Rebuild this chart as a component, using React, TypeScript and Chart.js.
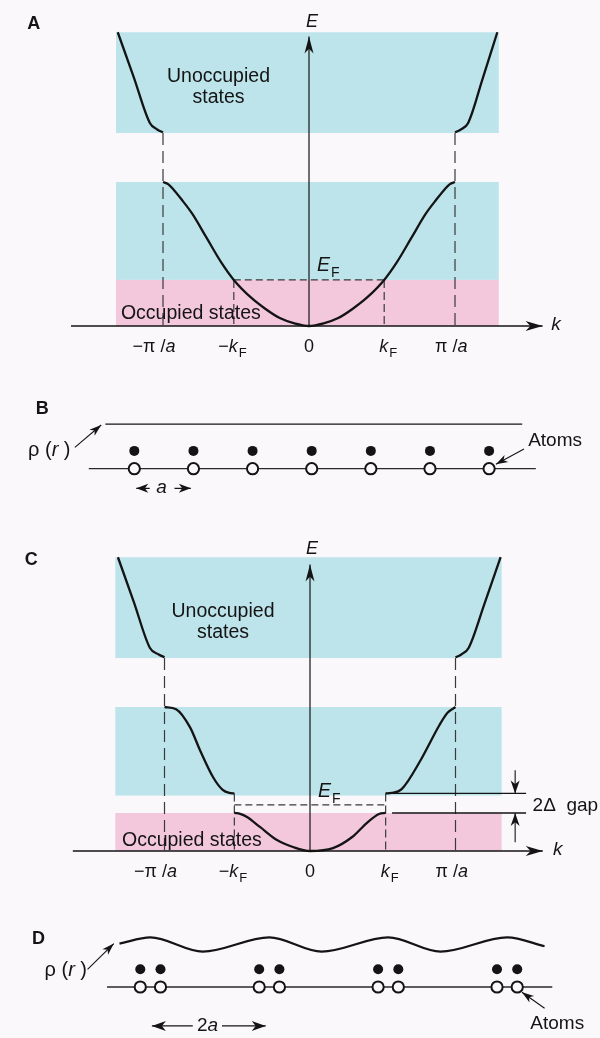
import React, { useEffect, useRef } from 'react';
import { Chart, registerables } from 'chart.js';

Chart.register(...registerables);

// ======================= DATA =======================
// Panels A and C: k in units of π/a, E in units of the lower-band width
const kTickLabels = ['−π /a', '−kF', '0', 'kF', 'π /a'];
const kTicksA = [-1, -0.515, 0, 0.515, 1];
const kTicksC = [-1, -0.52, 0, 0.52, 1];

// A — metal: half-filled band, no gap at k_F
const bandA_k = [-1, -0.965, -0.93, -0.87, -0.8, -0.7, -0.6, -0.515, -0.4, -0.3, -0.2, -0.1, 0, 0.1, 0.2, 0.3, 0.4, 0.515, 0.6, 0.7, 0.8, 0.87, 0.93, 0.965, 1];
const bandA_E = [1, 0.985, 0.95, 0.875, 0.78, 0.61, 0.44, 0.32, 0.2, 0.12, 0.055, 0.018, 0, 0.018, 0.055, 0.12, 0.2, 0.32, 0.44, 0.61, 0.78, 0.875, 0.95, 0.985, 1];
const topLeftA_k = [-1.31, -1.2, -1.09, -1.04, -1.0];
const topLeftA_E = [2.04, 1.727, 1.41, 1.365, 1.345];
const topRightA_k = [1.0, 1.04, 1.09, 1.19, 1.29];
const topRightA_E = [1.345, 1.365, 1.41, 1.72, 2.04];
const upperBandA = [1.34, 2.04];
const lowerBandA = [0.32, 1.0];
const occupiedA = [0, 0.32];
const bandSpanA = [-1.322, 1.3];
const fermiA = 0.32;

// C — Peierls insulator: gap 2Δ opened at ±k_F
const upperBranchLeftC_k = [-1, -0.92, -0.825, -0.756, -0.667, -0.6, -0.555, -0.52];
const upperBranchLeftC_E = [1, 0.985, 0.86, 0.7, 0.514, 0.424, 0.403, 0.4];
const upperBranchRightC_k = [0.52, 0.56, 0.63, 0.76, 0.89, 0.945, 1];
const upperBranchRightC_E = [0.4, 0.403, 0.43, 0.63, 0.875, 0.96, 1];
const lowerBranchC_k = [-0.52, -0.48, -0.433, -0.344, -0.227, -0.117, 0, 0.158, 0.29, 0.39, 0.474, 0.52];
const lowerBranchC_E = [0.264, 0.258, 0.236, 0.167, 0.076, 0.028, 0, 0.02, 0.097, 0.194, 0.257, 0.264];
const topLeftC_k = [-1.32, -1.21, -1.1, -1.04, -1.0];
const topLeftC_E = [2.04, 1.727, 1.41, 1.365, 1.345];
const topRightC_k = [1.0, 1.04, 1.09, 1.2, 1.31];
const topRightC_E = [1.345, 1.365, 1.41, 1.72, 2.04];
const upperBandC = [1.34, 2.04];
const lowerBandC = [0.385, 1.0];
const occupiedC = [0, 0.264];
const bandSpanC = [-1.338, 1.317];
const fermiC = 0.32;
const gapC = [0.264, 0.4];

// B — uniform chain (positions in units of a)
const atomsB = [0, 1, 2, 3, 4, 5, 6];
const rhoB_x = [-0.49, 6.56];
const rhoB_y = [2.5, 2.5];

// D — dimerised chain with charge-density wave
const atomsD = [-0.17, 0.17, 1.83, 2.17, 3.83, 4.17, 5.83, 6.17];
const rhoD_x = [-0.52, 0, 0.88, 2, 2.88, 4, 4.88, 6, 6.63];
const rhoD_y = [2.45, 2.8, 2.0, 2.8, 2.0, 2.8, 2.0, 2.8, 2.3];

const electronRow = 1;
const ionRow = 0;

// ======================= STYLE / LAYOUT =======================
const W = 600;
const FONT = '"Liberation Sans", Arial, Helvetica, sans-serif';
const BG = '#fbf8fb';
const BLUE = '#bde4eb';
const PINK = '#f3c8dd';
const INK = '#141414';
const DASH_INK = '#3a3a3a';

type XY = { x: number; y: number };
type Frame = { x0: number; xu: number; y0: number; yu: number };
type Fn = (v: number) => number;

const pts = (xs: number[], ys: number[]): XY[] => xs.map((x, i) => ({ x, y: ys[i] }));

function curve(xs: number[], ys: number[], width = 2.3) {
  return {
    data: pts(xs, ys), showLine: true, pointRadius: 0, borderColor: INK,
    borderWidth: width, cubicInterpolationMode: 'monotone', order: 1,
  };
}
function seg(x0: number, y0: number, x1: number, y1: number, width = 1.2, dash: number[] = [], color = INK, order = 2) {
  return {
    data: [{ x: x0, y: y0 }, { x: x1, y: y1 }], showLine: true, pointRadius: 0,
    borderColor: color, borderWidth: width, borderDash: dash, order,
  };
}
function marks(xs: number[], row: number, radius: number, fill: string, stroke: string, bw: number) {
  return {
    data: xs.map((x) => ({ x, y: row })), showLine: false, pointRadius: radius,
    pointBackgroundColor: fill, pointBorderColor: stroke, pointBorderWidth: bw, order: 0,
  };
}

function head(ctx: CanvasRenderingContext2D, fx: number, fy: number, tx: number, ty: number, len = 14, half = 4.5) {
  const a = Math.atan2(ty - fy, tx - fx);
  const c = Math.cos(a), s = Math.sin(a);
  const bx = tx - len * c, by = ty - len * s;
  const nx = tx - len * 0.72 * c, ny = ty - len * 0.72 * s;
  ctx.beginPath();
  ctx.moveTo(tx, ty);
  ctx.lineTo(bx - half * s, by + half * c);
  ctx.lineTo(nx, ny);
  ctx.lineTo(bx + half * s, by - half * c);
  ctx.closePath();
  ctx.fillStyle = INK;
  ctx.fill();
}

function band(ctx: CanvasRenderingContext2D, X: Fn, Y: Fn, xr: number[], er: number[], color: string) {
  const x0 = X(xr[0]), x1 = X(xr[1]), y0 = Y(er[1]), y1 = Y(er[0]);
  ctx.fillStyle = color;
  ctx.fillRect(x0, y0, x1 - x0, y1 - y0);
}

function text(ctx: CanvasRenderingContext2D, str: string, x: number, y: number, size: number, o: { bold?: boolean; italic?: boolean; align?: CanvasTextAlign } = {}) {
  ctx.font = `${o.italic ? 'italic ' : ''}${o.bold ? 'bold ' : ''}${size}px ${FONT}`;
  ctx.textAlign = o.align || 'left';
  ctx.textBaseline = 'alphabetic';
  ctx.fillStyle = INK;
  ctx.fillText(str, x, y);
}

function rich(ctx: CanvasRenderingContext2D, str: string, x: number, y: number, size: number, mode: 'left' | 'center' | 'tick') {
  const chars = Array.from(str);
  const parts = chars.map((c, i) => {
    const sub = c === 'F' && i > 0 && (chars[i - 1] === 'k' || chars[i - 1] === 'E');
    const it = c === 'a' || c === 'k' || c === 'r' || c === 'E';
    const fs = sub ? Math.round(size * 0.74) : size;
    return { c, sub, font: `${it ? 'italic ' : ''}${fs}px ${FONT}` };
  });
  const widths = parts.map((p, i) => {
    ctx.font = p.font;
    const w = ctx.measureText(p.c).width;
    return w + (i + 1 < parts.length && parts[i + 1].sub ? 1 : 0);
  });
  const offs: number[] = [];
  let acc = 0;
  widths.forEach((w) => { offs.push(acc); acc += w; });
  let start = x;
  if (mode === 'center') start = x - acc / 2;
  if (mode === 'tick') {
    let idx = parts.findIndex((p) => p.c === '/' || p.c === 'k' || p.c === '0');
    if (idx < 0) idx = 0;
    start = x - offs[idx] - widths[idx] / 2;
  }
  ctx.fillStyle = INK;
  ctx.textAlign = 'left';
  ctx.textBaseline = 'alphabetic';
  parts.forEach((p, i) => {
    ctx.font = p.font;
    ctx.fillText(p.c, start + offs[i], y + (p.sub ? size * 0.3 : 0));
  });
}

type Spec = {
  datasets: any[];
  before?: (ctx: CanvasRenderingContext2D, X: Fn, Y: Fn) => void;
  after?: (ctx: CanvasRenderingContext2D, X: Fn, Y: Fn) => void;
};

function Panel({ top, height, frame, build }: { top: number; height: number; frame: Frame; build: () => Spec }) {
  const ref = useRef<HTMLCanvasElement | null>(null);
  useEffect(() => {
    const canvas = ref.current!;
    const { x0, xu, y0, yu } = frame;
    const spec = build();
    const withScales = (c: any, fn?: (ctx: CanvasRenderingContext2D, X: Fn, Y: Fn) => void) => {
      if (!fn) return;
      const X = (v: number) => c.scales.x.getPixelForValue(v);
      const Y = (v: number) => c.scales.y.getPixelForValue(v);
      c.ctx.save();
      fn(c.ctx, X, Y);
      c.ctx.restore();
    };
    const chart = new Chart(canvas, {
      type: 'scatter',
      data: { datasets: spec.datasets },
      options: {
        animation: false,
        responsive: false,
        maintainAspectRatio: false,
        events: [],
        layout: { padding: 0 },
        plugins: { legend: { display: false }, tooltip: { enabled: false }, title: { display: false } },
        scales: {
          x: { type: 'linear', display: false, min: (0 - x0) / xu, max: (W - x0) / xu },
          y: { type: 'linear', display: false, min: (y0 - top - height) / yu, max: (y0 - top) / yu },
        },
      } as any,
      plugins: [
        {
          id: 'deco',
          beforeDatasetsDraw(c: any) { withScales(c, spec.before); },
          afterDatasetsDraw(c: any) { withScales(c, spec.after); },
        },
      ],
    });
    return () => chart.destroy();
  }, []);
  return (
    <canvas
      ref={ref}
      width={W}
      height={height}
      style={{ position: 'absolute', left: 0, top, width: W, height, display: 'block' }}
    />
  );
}

// ---------- Panel A ----------
const FRAME_A: Frame = { x0: 309, xu: 146, y0: 326, yu: 144 };
function buildA(): Spec {
  return {
    datasets: [
      curve(bandA_k, bandA_E),
      curve(topLeftA_k, topLeftA_E),
      curve(topRightA_k, topRightA_E),
      seg(-1, upperBandA[0], -1, 0, 1.2, [12, 6], DASH_INK, 3),
      seg(1, upperBandA[0], 1, 0, 1.2, [12, 6], DASH_INK, 3),
      seg(kTicksA[1], fermiA, kTicksA[1], 0, 1.2, [8, 4], DASH_INK, 3),
      seg(kTicksA[3], fermiA, kTicksA[3], 0, 1.2, [8, 4], DASH_INK, 3),
      seg(kTicksA[1], fermiA, kTicksA[3], fermiA, 1.3, [7, 4], DASH_INK, 3),
      seg(0, 0, 0, 2.01, 1.2),
      seg(-1.63, 0, 1.6, 0, 1.3),
    ],
    before(ctx, X, Y) {
      band(ctx, X, Y, bandSpanA, upperBandA, BLUE);
      band(ctx, X, Y, bandSpanA, lowerBandA, BLUE);
      band(ctx, X, Y, bandSpanA, occupiedA, PINK);
    },
    after(ctx, X, Y) {
      head(ctx, X(0), Y(1.5), X(0), Y(2.01), 17, 4.5);
      head(ctx, X(1.2), Y(0), X(1.6), Y(0), 17, 5);
      text(ctx, 'A', X(-1.93), Y(2.06), 18, { bold: true });
      text(ctx, 'E', X(0.02), Y(2.076), 18, { italic: true, align: 'center' });
      text(ctx, 'Unoccupied', X(-0.62), Y(1.694), 19.5, { align: 'center' });
      text(ctx, 'states', X(-0.62), Y(1.549), 19.5, { align: 'center' });
      rich(ctx, 'EF', X(0.055), Y(0.38), 19.5, 'left');
      text(ctx, 'Occupied states', X(-1.288), Y(0.049), 19.5);
      text(ctx, 'k', X(1.66), Y(-0.028), 19, { italic: true });
      kTicksA.forEach((k, i) => rich(ctx, kTickLabels[i], X(k), Y(-0.18), 18, 'tick'));
    },
  };
}

// ---------- Panel B ----------
const FRAME_B: Frame = { x0: 130, xu: 60.67, y0: 471, yu: 20 };
function buildB(): Spec {
  return {
    datasets: [
      marks(atomsB, electronRow, 5, INK, INK, 0),
      marks(atomsB, ionRow, 5.6, BG, INK, 2),
      seg(rhoB_x[0], rhoB_y[0], rhoB_x[1], rhoB_y[1], 1.3),
      seg(-0.77, 0, 6.79, 0, 1.3, [], '#2a2a2a'),
      seg(-1.005, 1.2, -0.56, 2.45, 1.1),
      seg(6.59, 1.1, 6.115, 0.25, 1.1),
      seg(0.033, -1.1, 0.26, -1.1, 1.2),
      seg(0.68, -1.1, 0.956, -1.1, 1.2),
    ],
    after(ctx, X, Y) {
      head(ctx, X(-1.005), Y(1.2), X(-0.56), Y(2.45), 12, 4);
      head(ctx, X(6.59), Y(1.1), X(6.115), Y(0.25), 12, 4);
      head(ctx, X(0.5), Y(-1.1), X(0.033), Y(-1.1), 12, 4.5);
      head(ctx, X(0.5), Y(-1.1), X(0.956), Y(-1.1), 12, 4.5);
      text(ctx, 'B', X(-1.665), Y(3.05), 18, { bold: true });
      rich(ctx, 'ρ (r )', X(-1.797), Y(0.7), 20, 'left');
      text(ctx, 'Atoms', X(6.66), Y(1.3), 19);
      rich(ctx, 'a', X(0.46), Y(-1.35), 19, 'center');
    },
  };
}

// ---------- Panel C ----------
const FRAME_C: Frame = { x0: 310, xu: 145.5, y0: 851, yu: 144 };
function buildC(): Spec {
  return {
    datasets: [
      curve(upperBranchLeftC_k, upperBranchLeftC_E),
      curve(upperBranchRightC_k, upperBranchRightC_E),
      curve(lowerBranchC_k, lowerBranchC_E),
      curve(topLeftC_k, topLeftC_E),
      curve(topRightC_k, topRightC_E),
      seg(-1, upperBandC[0], -1, 0, 1.2, [12, 6], DASH_INK, 3),
      seg(1, upperBandC[0], 1, 0, 1.2, [12, 6], DASH_INK, 3),
      seg(kTicksC[1], gapC[1], kTicksC[1], 0, 1.2, [8, 4], DASH_INK, 3),
      seg(kTicksC[3], gapC[1], kTicksC[3], 0, 1.2, [8, 4], DASH_INK, 3),
      seg(kTicksC[1], fermiC, kTicksC[3], fermiC, 1.3, [7, 4], DASH_INK, 3),
      seg(kTicksC[3], gapC[1], 1.485, gapC[1], 1.3),
      seg(0.564, gapC[0], 1.485, gapC[0], 1.3),
      seg(1.41, 0.56, 1.41, gapC[1], 1.1),
      seg(1.41, 0.06, 1.41, gapC[0], 1.1),
      seg(0, 0, 0, 1.99, 1.2),
      seg(-1.63, 0, 1.6, 0, 1.3),
    ],
    before(ctx, X, Y) {
      band(ctx, X, Y, bandSpanC, upperBandC, BLUE);
      band(ctx, X, Y, bandSpanC, lowerBandC, BLUE);
      band(ctx, X, Y, bandSpanC, occupiedC, PINK);
    },
    after(ctx, X, Y) {
      head(ctx, X(0), Y(1.5), X(0), Y(1.99), 17, 4.5);
      head(ctx, X(1.2), Y(0), X(1.6), Y(0), 17, 5);
      head(ctx, X(1.41), Y(0.56), X(1.41), Y(gapC[1]), 13, 4.5);
      head(ctx, X(1.41), Y(0.06), X(1.41), Y(gapC[0]), 13, 4.5);
      text(ctx, 'C', X(-1.96), Y(1.986), 18, { bold: true });
      text(ctx, 'E', X(0.014), Y(2.0625), 18, { italic: true, align: 'center' });
      text(ctx, 'Unoccupied', X(-0.598), Y(1.625), 19.5, { align: 'center' });
      text(ctx, 'states', X(-0.598), Y(1.479), 19.5, { align: 'center' });
      rich(ctx, 'EF', X(0.055), Y(0.375), 19.5, 'left');
      text(ctx, 'Occupied states', X(-1.292), Y(0.035), 19.5);
      text(ctx, 'k', X(1.67), Y(-0.028), 19, { italic: true });
      text(ctx, '2Δ  gap', X(1.53), Y(0.278), 19);
      kTicksC.forEach((k, i) => rich(ctx, kTickLabels[i], X(k), Y(-0.18), 18, 'tick'));
    },
  };
}

// ---------- Panel D ----------
const FRAME_D: Frame = { x0: 146.5, xu: 61, y0: 989, yu: 20 };
function buildD(): Spec {
  return {
    datasets: [
      marks(atomsD, electronRow, 5, INK, INK, 0),
      marks(atomsD, ionRow, 5.6, BG, INK, 2),
      curve(rhoD_x, rhoD_y, 2.2),
      seg(-0.73, 0, 6.76, 0, 1.3, [], '#2a2a2a'),
      seg(-1.057, 1.0, -0.615, 2.45, 1.1),
      seg(6.63, -1.2, 6.25, -0.3, 1.1),
      seg(0.025, -2.2, 0.713, -2.2, 1.2),
      seg(1.205, -2.2, 1.94, -2.2, 1.2),
    ],
    after(ctx, X, Y) {
      head(ctx, X(-1.057), Y(1.0), X(-0.615), Y(2.45), 12, 4);
      head(ctx, X(6.63), Y(-1.2), X(6.25), Y(-0.3), 12, 4);
      head(ctx, X(1), Y(-2.2), X(0.025), Y(-2.2), 14, 5);
      head(ctx, X(1), Y(-2.2), X(1.94), Y(-2.2), 14, 5);
      text(ctx, 'D', X(-1.99), Y(2.4), 18, { bold: true });
      rich(ctx, 'ρ (r )', X(-1.78), Y(0.6), 20, 'left');
      text(ctx, 'Atoms', X(6.39), Y(-2.35), 19);
      rich(ctx, '2a', X(0.96), Y(-2.5), 19, 'center');
    },
  };
}

export default function App() {
  return (
    <div style={{ position: 'absolute', left: 0, top: 0, width: W, height: 1038, background: BG, overflow: 'hidden' }}>
      <Panel top={0} height={380} frame={FRAME_A} build={buildA} />
      <Panel top={380} height={140} frame={FRAME_B} build={buildB} />
      <Panel top={520} height={385} frame={FRAME_C} build={buildC} />
      <Panel top={905} height={133} frame={FRAME_D} build={buildD} />
    </div>
  );
}
